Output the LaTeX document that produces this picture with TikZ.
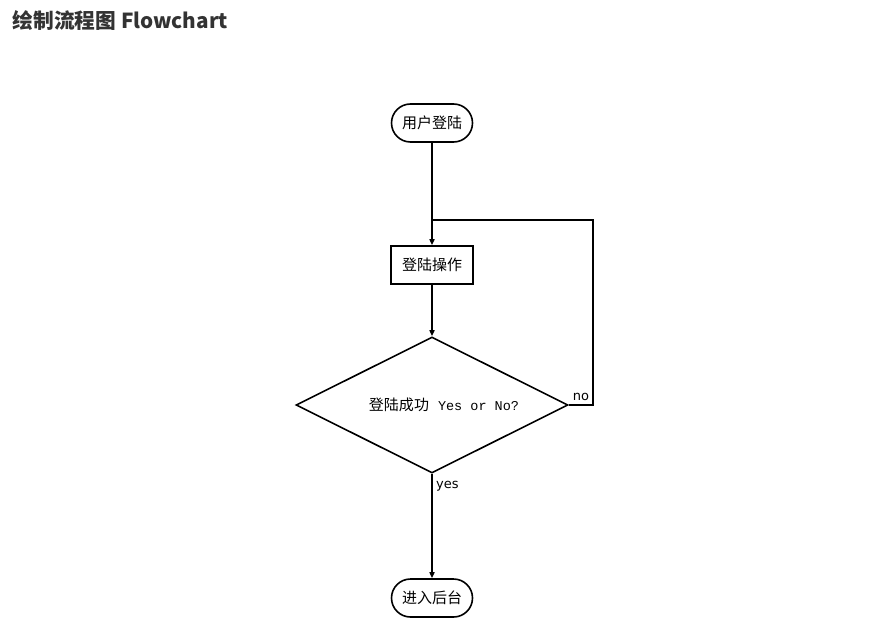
\documentclass[tikz,border=0pt]{standalone}
\usepackage{fontspec}
\newfontfamily\cjk{Noto Sans CJK SC}
\newfontfamily\monofont{Liberation Mono}
\newfontfamily\labfont{DejaVu Sans}
\usetikzlibrary{arrows.meta}
\usetikzlibrary{shapes.geometric}

\begin{document}
\begin{tikzpicture}[%
  x=1pt, y=-1pt,
  >={Triangle[length=6pt,width=5pt]},
  line width=1.6pt,
  term/.style={draw, rectangle, rounded corners=19pt, minimum width=81pt,
    minimum height=38pt, font=\cjk\fontsize{15}{17}\selectfont},
  proc/.style={draw, rectangle, minimum width=82pt, minimum height=38pt,
    font=\cjk\fontsize{15}{17}\selectfont},
  decide/.style={draw, diamond, aspect=2, minimum width=272pt,
    minimum height=136pt, inner sep=0pt, font=\cjk\fontsize{15}{17}\selectfont},
  lab/.style={font=\labfont\fontsize{13}{15}\selectfont},
]

  \useasboundingbox (0,0) rectangle (890,636);

  \node[anchor=base west, inner sep=0pt, text=black!80,
    font=\cjk\bfseries\fontsize{20.7}{24}\selectfont] (title) at (12,29)
    {绘制流程图 Flowchart};

  \node[term] (start) at (432,123) {用户登陆};
  \node[proc] (login) at (432,265) {登陆操作};
  \node[decide] (check) at (432,405)
    {\hspace{24pt}登陆成功\hspace{9pt}{\monofont\fontsize{13.5}{16}\selectfont Yes or No?}};
  \node[term] (home) at (432,598) {进入后台};

  \coordinate (turn) at (593,220);
  \coordinate (merge) at (432,220);

  \draw[->] (start) -- (login);
  \draw[->] (login) -- (check);
  \draw[->] (check) -- node[lab, anchor=north west, pos=0, yshift=-3pt] {yes} (home);
  \draw (check.east) -| node[lab, anchor=south west, pos=0] {no} (turn) -- (merge);

\end{tikzpicture}
\end{document}
